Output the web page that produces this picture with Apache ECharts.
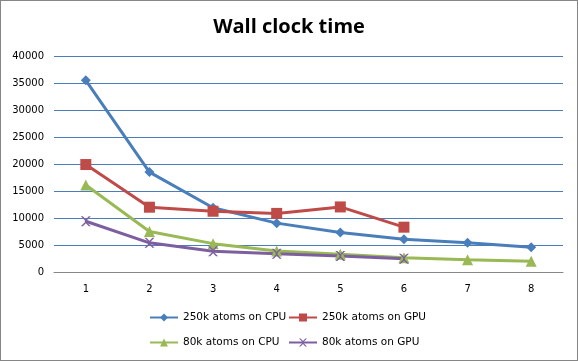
<!DOCTYPE html>
<html><head><meta charset="utf-8">
<script src="https://cdn.jsdelivr.net/npm/echarts@6/dist/echarts.min.js"></script>
<style>html,body{margin:0;padding:0;background:#fff}#c{width:576px;height:359px;border:1px solid #868686}</style>
</head><body><div id="c"></div>
<script>
const categories = ['1','2','3','4','5','6','7','8'];
const cpu250 = [35500, 18500, 11900, 9050, 7300, 6050, 5400, 4600];
const gpu250 = [19900, 12000, 11250, 10850, 12050, 8300];
const cpu80 = [16100, 7500, 5250, 3900, 3300, 2650, 2250, 2000];
const gpu80 = [9400, 5400, 3850, 3400, 2950, 2450];
const names = ['250k atoms on CPU','250k atoms on GPU','80k atoms on CPU','80k atoms on GPU'];
const colors = ['#4A7EBB','#BE4B48','#98B954','#7D5FA0'];
const xPath = 'path://M0,0 L2,0 L5,3 L8,0 L10,0 L6,4 L6,6 L10,10 L8,10 L5,7 L2,10 L0,10 L4,6 L4,4 Z';
const chart = echarts.init(document.getElementById('c'));
const font = 'DejaVu Sans';
function s(name, data, color, symbol, size){
  return {name, type:'line', data, symbol, symbolSize:size, showSymbol:true,
    lineStyle:{width:3, color}, itemStyle:{color}, emphasis:{disabled:true}};
}
function lg(name, left, top){
  return {data:[name], left, top, itemWidth:28, itemHeight:10, itemGap:0,
    textStyle:{fontFamily:font, fontSize:10.5, color:'#000'}};
}
chart.setOption({
  animation:false,
  title:{text:'Wall clock time', left:'center', top:11,
    textStyle:{fontFamily:'Open Sans', fontWeight:'bold', fontSize:20, color:'#000'}},
  grid:{left:53, right:14, top:55, bottom:88},
  legend:[
    lg(names[0], 143, 306), lg(names[1], 282, 306),
    lg(names[2], 143, 331), lg(names[3], 282, 331)
  ],
  xAxis:{type:'category', data:categories, boundaryGap:true,
    axisLine:{lineStyle:{color:'#868686'}}, axisTick:{show:false},
    axisLabel:{fontFamily:font, fontSize:10, color:'#000', margin:12}},
  yAxis:{type:'value', min:0, max:40000, interval:5000,
    axisLine:{show:false}, axisTick:{show:false},
    splitLine:{lineStyle:{color:'#4A7EBB', width:1}},
    axisLabel:{fontFamily:font, fontSize:10, color:'#000', margin:10, formatter:v=>String(v)}},
  series:[
    s(names[0], cpu250, colors[0], 'diamond', 10),
    s(names[1], gpu250, colors[1], 'rect', 11),
    s(names[2], cpu80, colors[2], 'triangle', 11),
    s(names[3], gpu80, colors[3], xPath, 10)
  ]
});
</script></body></html>
